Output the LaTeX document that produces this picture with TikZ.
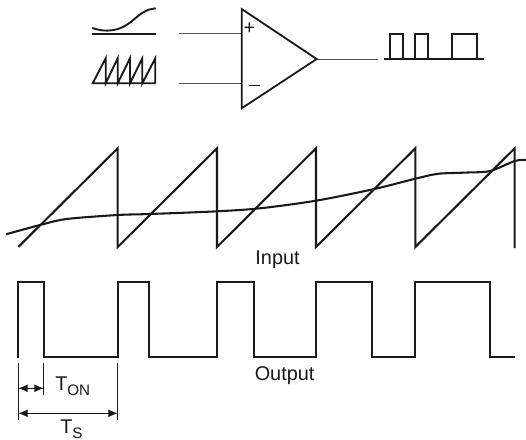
\documentclass[tikz,border=0pt]{standalone}
\usepackage{fontspec}
\setmainfont{Liberation Sans}
\usetikzlibrary{arrows.meta}
\definecolor{ink}{gray}{0.1}
\tikzset{
  wave/.style={draw=ink,line width=1.55pt,line join=miter},
  icon/.style={draw=ink,line width=1.4pt,line join=miter},
  thin wire/.style={draw=ink!75,line width=0.75pt},
  amp/.style={draw=ink,line width=1.35pt,line join=miter},
  dim/.style={draw=ink,line width=0.85pt,{Latex[length=7pt,width=6pt]}-{Latex[length=7pt,width=6pt]}},
  ext/.style={draw=ink,line width=0.6pt},
  lbl/.style={inner sep=0pt,anchor=base west,text=ink,font=\fontsize{14.9}{16}\selectfont},
  sign/.style={inner sep=0pt,text=ink,font=\fontsize{15}{16}\selectfont}
}
\newcommand{\subtext}[1]{\raisebox{-4.2pt}{\fontsize{11.4}{12}\selectfont #1}}
\begin{document}
\begin{tikzpicture}[x=0.75pt,y=-0.75pt]
\useasboundingbox (0,0) rectangle (526,440);
% comparator
\coordinate (ampTop) at (241.7,9);
\coordinate (ampBot) at (241.7,108.3);
\coordinate (ampOut) at (316.7,59);
\coordinate (plusIn) at (241.7,33.7);
\coordinate (minusIn) at (241.7,83.3);
\coordinate (plusFree) at (179.3,33.7);
\coordinate (minusFree) at (179.3,83.3);
\coordinate (outFree) at (378.3,59);
\draw[thin wire] (plusFree) -- (plusIn);
\draw[thin wire] (minusFree) -- (minusIn);
\draw[thin wire] (ampOut) -- (outFree);
\draw[amp] (ampTop) -- (ampOut) -- (ampBot) -- cycle;
\node[sign] (plus) at (249.5,28.8) {+};
\draw[ink,line width=0.75pt] (249,85) -- (260,85);
% small input icons
\draw[icon] plot[smooth,tension=0.6] coordinates {(92.3,28) (100,30) (108,30.6) (118,29) (128,24) (140,14.5) (148,10) (155.7,8.3)};
\draw[icon] (92,33.7) -- (156,33.7);
\draw[icon] (155.7,83.3) -- (92.7,83.3) -- (105.7,58.3) -- (105.7,83.3) -- (117.7,58.3) -- (117.7,83.3) -- (130,58.3) -- (130,83.3) -- (142.3,58.3) -- (142.3,83.3) -- (155.3,58.3) -- (155.3,83.3);
% small output icon
\draw[icon] (384,59) -- (484.3,59);
\draw[icon] (390,59) -- (390,33.7) -- (403.3,33.7) -- (403.3,59);
\draw[icon] (415,59) -- (415,33.7) -- (428.3,33.7) -- (428.3,59);
\draw[icon] (452.3,59) -- (452.3,33.7) -- (477.3,33.7) -- (477.3,59);
% input waveform
\draw[wave] (18.3,247) -- (117.7,148.3) -- (117.7,247) -- (217,148.3) -- (217,247) -- (316,148.3) -- (316,247) -- (415.3,148.3) -- (415.3,247) -- (514.7,148.3) -- (514.7,248);
\draw[wave,line join=round] plot[smooth,tension=0.5] coordinates {(6,234.3) (40,225) (66.7,219) (117.7,215) (150,214) (217,211.3) (260,208.3) (316,200.7) (374.3,189) (415.3,178.7) (438,173.8) (465,172.6) (490,171) (514.7,161) (526,160)};
\node[lbl] (input) at (255.2,264.3) {Input};
% output waveform
\draw[wave] (18.3,357.5) -- (18.3,282.3) -- (43.7,282.3) -- (43.7,356.7) -- (117.7,356.7) -- (117.7,282.3) -- (149,282.3) -- (149,356.7) -- (217,356.7) -- (217,282.3) -- (254.3,282.3) -- (254.3,356.7) -- (316,356.7) -- (316,282.3) -- (372.3,282.3) -- (372.3,356.7) -- (415.3,356.7) -- (415.3,282.3) -- (490,282.3) -- (490,356.7) -- (515.3,356.7);
\node[lbl] (output) at (254.5,380.7) {Output};
% timing dimensions
\coordinate (a1) at (18.3,363.3);
\coordinate (a2) at (18.3,420);
\coordinate (b1) at (43.7,363.3);
\coordinate (b2) at (43.7,395);
\coordinate (c1) at (117.7,363.3);
\coordinate (c2) at (117.7,420);
\draw[ext] (a1) -- (a2);
\draw[ext] (b1) -- (b2);
\draw[ext] (c1) -- (c2);
\coordinate (ta) at (18.3,388.3);
\coordinate (tb) at (43.7,388.3);
\coordinate (sa) at (18.3,413.3);
\coordinate (sb) at (117.7,413.3);
\draw[dim] (ta) -- (tb);
\draw[dim] (sa) -- (sb);
\node[lbl] (ton) at (55,390) {T\subtext{ON}};
\node[lbl] (ts) at (60,433) {T\subtext{S}};
\end{tikzpicture}
\end{document}
